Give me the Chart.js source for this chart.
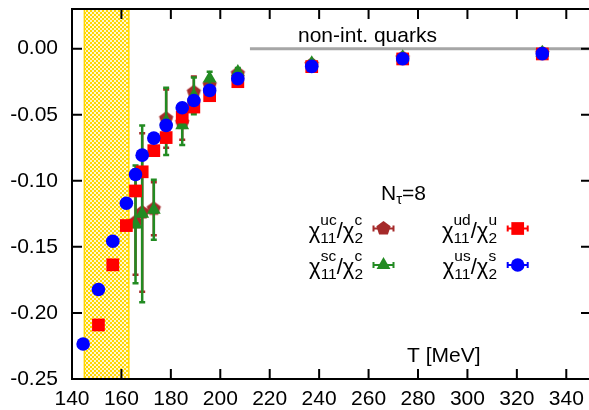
<!DOCTYPE html>
<html lang="en">
<head>
  <meta charset="UTF-8" />
  <title>Off-diagonal susceptibility ratios, N_tau = 8</title>
  <script src="https://cdn.jsdelivr.net/npm/chart.js"></script>
  <style>
    * { margin: 0; padding: 0; }
    html, body { width: 589px; height: 410px; overflow: hidden; background: #fff; }
    #chart { display: block; }
  </style>
</head>
<body>
  <canvas id="chart" width="600" height="410"></canvas>

  <script>
    // Temperatures in MeV
    const temps = [144.5, 150.7, 156.5, 162.0, 165.7, 168.4, 173.1, 178.1, 184.6, 189.3, 195.7, 207.1, 237.0, 273.8, 330.3];

    // chi11^us / chi2^s
    const usS    = [-0.2235, -0.1823, -0.1458, -0.1170, -0.0952, -0.0806, -0.0677, -0.0581, -0.0447, -0.0392, -0.0316, -0.0227, -0.0134, -0.0076, -0.0038];
    const usSErr = [0.002, 0.002, 0.002, 0.002, 0.002, 0.002, 0.0015, 0.0015, 0.001, 0.001, 0.001, 0.001, 0.0008, 0.0006, 0.0005];
    // chi11^ud / chi2^u
    const udU    = [null, -0.2091, -0.1636, -0.1339, -0.1077, -0.0932, -0.0772, -0.0673, -0.0518, -0.0442, -0.0356, -0.0250, -0.0136, -0.0078, -0.0040];
    const udUErr = [null, 0.003, 0.003, 0.002, 0.002, 0.002, 0.0015, 0.0015, 0.001, 0.001, 0.001, 0.001, 0.0008, 0.0006, 0.0005];
    // chi11^sc / chi2^c
    const scC    = [null, null, null, null, -0.1330, -0.1250, -0.1220, -0.0550, -0.0580, -0.0357, -0.0225, -0.0177, -0.0110, -0.0065, -0.0032];
    const scCErr = [null, null, null, null, 0.0445, 0.0669, 0.0227, 0.0254, 0.0150, 0.0139, 0.0050, 0.0030, 0.0020, 0.0015, 0.0010];
    // chi11^uc / chi2^c
    const ucC    = [null, null, null, null, -0.1312, -0.1240, -0.1212, -0.0530, -0.0560, -0.0330, -0.0275, -0.0190, -0.0120, -0.0070, -0.0035];
    const ucCErr = [null, null, null, null, 0.040, 0.060, 0.020, 0.022, 0.013, 0.012, 0.0045, 0.003, 0.002, 0.0015, 0.001];

    // free (non-interacting) quark limit
    const freeT = [212, 350];
    const freeV = [0, 0];

    // crossover band T_c
    const bandT = [145, 163];

    const xTicks = [140, 160, 180, 200, 220, 240, 260, 280, 300, 320, 340];
    const yTicks = [-0.25, -0.20, -0.15, -0.10, -0.05, 0.00];

    const FONT = '"Liberation Sans", Arial, Helvetica, sans-serif';
    Chart.defaults.font.family = FONT;
    Chart.defaults.color = '#000';

    function pts(vals, errs) {
      const out = [];
      temps.forEach((t, i) => {
        if (vals[i] !== null) out.push({ x: t, y: vals[i], e: errs[i] });
      });
      return out;
    }

    function pentagon(r, color) {
      const s = Math.ceil(2 * r + 2);
      const c = document.createElement('canvas');
      c.width = s; c.height = s;
      const g = c.getContext('2d');
      g.fillStyle = color;
      g.beginPath();
      for (let k = 0; k < 5; k++) {
        const a = -Math.PI / 2 + k * 2 * Math.PI / 5;
        const px = s / 2 + r * Math.cos(a), py = s / 2 + r * Math.sin(a);
        if (k) g.lineTo(px, py); else g.moveTo(px, py);
      }
      g.closePath();
      g.fill();
      return c;
    }

    // yellow checkered fill for the band
    const tile = document.createElement('canvas');
    tile.width = 4; tile.height = 4;
    const tg = tile.getContext('2d');
    tg.fillStyle = '#fff8d0'; tg.fillRect(0, 0, 4, 4);
    tg.fillStyle = '#ffd700'; tg.fillRect(0, 0, 2, 2); tg.fillRect(2, 2, 2, 2);

    // error bars, drawn under each dataset's own markers
    const errorBars = {
      id: 'errorBars',
      beforeDatasetDraw(chart, args) {
        const ds = chart.data.datasets[args.index];
        if (!ds.errBars) return;
        const xs = chart.scales.x, ys = chart.scales.y, ctx = chart.ctx, a = chart.chartArea;
        ctx.save();
        ctx.beginPath(); ctx.rect(a.left, a.top, a.right - a.left, a.bottom - a.top); ctx.clip();
        ctx.strokeStyle = ds.backgroundColor;
        ctx.lineWidth = 2.5;
        ds.data.forEach(p => {
          if (!p.e) return;
          const x = xs.getPixelForValue(p.x);
          const y1 = ys.getPixelForValue(p.y - p.e), y2 = ys.getPixelForValue(p.y + p.e);
          ctx.beginPath();
          ctx.moveTo(x, y1); ctx.lineTo(x, y2);
          ctx.moveTo(x - 3, y1); ctx.lineTo(x + 3, y1);
          ctx.moveTo(x - 3, y2); ctx.lineTo(x + 3, y2);
          ctx.stroke();
        });
        ctx.restore();
      }
    };

    // band behind, gnuplot style frame with inward ticks on top
    const frame = {
      id: 'frame',
      beforeDatasetsDraw(chart) {
        const ctx = chart.ctx, a = chart.chartArea, xs = chart.scales.x;
        const x0 = xs.getPixelForValue(bandT[0]), x1 = xs.getPixelForValue(bandT[1]);
        ctx.save();
        ctx.fillStyle = ctx.createPattern(tile, 'repeat');
        ctx.fillRect(x0, a.top, x1 - x0, a.bottom - a.top);
        ctx.strokeStyle = '#ffd700';
        ctx.lineWidth = 1.5;
        ctx.beginPath();
        ctx.moveTo(x0, a.top); ctx.lineTo(x0, a.bottom);
        ctx.moveTo(x1, a.top); ctx.lineTo(x1, a.bottom);
        ctx.stroke();
        ctx.restore();
      },
      afterDatasetsDraw(chart) {
        const ctx = chart.ctx, a = chart.chartArea, xs = chart.scales.x, ys = chart.scales.y;
        ctx.save();
        ctx.strokeStyle = '#000';
        ctx.lineWidth = 2;
        ctx.strokeRect(a.left, a.top, a.right - a.left, a.bottom - a.top);
        ctx.beginPath();
        xs.ticks.forEach(t => {
          const x = xs.getPixelForValue(t.value);
          ctx.moveTo(x, a.bottom); ctx.lineTo(x, a.bottom - 10);
          ctx.moveTo(x, a.top); ctx.lineTo(x, a.top + 10);
        });
        ys.ticks.forEach(t => {
          const y = ys.getPixelForValue(t.value);
          ctx.moveTo(a.left, y); ctx.lineTo(a.left + 10, y);
          ctx.moveTo(a.right, y); ctx.lineTo(a.right - 10, y);
        });
        ctx.stroke();

        ctx.fillStyle = '#000';
        ctx.textAlign = 'left';
        ctx.textBaseline = 'alphabetic';
        ctx.font = '21px ' + FONT;
        ctx.fillText('non-int. quarks', 298, 42);
        ctx.fillText('T [MeV]', 407, 362);
        ctx.restore();
      }
    };

    function chiLabel(ctx, right, base, s1, b1, s2, b2) {
      const big = '22px ' + FONT, small = '15.5px ' + FONT;
      ctx.font = big;
      const wChi = ctx.measureText('χ').width, wSl = ctx.measureText('/').width;
      ctx.font = small;
      const w1 = Math.max(ctx.measureText(s1).width, ctx.measureText(b1).width);
      const w2 = Math.max(ctx.measureText(s2).width, ctx.measureText(b2).width);
      let x = right - (2 * wChi + wSl + w1 + w2);
      ctx.font = big; ctx.fillText('χ', x, base); x += wChi;
      ctx.font = small; ctx.fillText(s1, x, base - 13); ctx.fillText(b1, x, base + 5); x += w1;
      ctx.font = big; ctx.fillText('/', x, base); x += wSl;
      ctx.fillText('χ', x, base); x += wChi;
      ctx.font = small; ctx.fillText(s2, x, base - 13); ctx.fillText(b2, x, base + 5);
    }

    const keyLabels = {
      uc: ['uc', '11', 'c', '2'],
      sc: ['sc', '11', 'c', '2'],
      ud: ['ud', '11', 'u', '2'],
      us: ['us', '11', 's', '2']
    };

    const legendBox = {
      id: 'legendBox',
      afterDraw(chart) {
        const ctx = chart.ctx;
        ctx.save();
        ctx.fillStyle = '#000';
        ctx.textAlign = 'left';
        ctx.textBaseline = 'alphabetic';
        ctx.font = '21px ' + FONT;
        ctx.fillText('N', 381, 199.5);
        const wN = ctx.measureText('N').width;
        ctx.font = '15px ' + FONT;
        ctx.fillText('τ', 381 + wN, 204);
        const wT = ctx.measureText('τ').width;
        ctx.font = '21px ' + FONT;
        ctx.fillText('=8', 381 + wN + wT, 199.5);

        const slots = [
          { key: 'uc', right: 363, mx: 383.5, y: 228.5 },
          { key: 'sc', right: 363, mx: 383.5, y: 265 },
          { key: 'ud', right: 497, mx: 517.7, y: 228.5 },
          { key: 'us', right: 497, mx: 517.7, y: 265 }
        ];
        slots.forEach(s => {
          const ds = chart.data.datasets.find(d => d.key === s.key);
          ctx.fillStyle = '#000';
          chiLabel(ctx, s.right, s.y + 9, ...keyLabels[s.key]);
          ctx.strokeStyle = ds.backgroundColor;
          ctx.lineWidth = 2;
          ctx.beginPath();
          ctx.moveTo(s.mx - 10, s.y); ctx.lineTo(s.mx + 10, s.y);
          ctx.moveTo(s.mx - 10, s.y - 3); ctx.lineTo(s.mx - 10, s.y + 3);
          ctx.moveTo(s.mx + 10, s.y - 3); ctx.lineTo(s.mx + 10, s.y + 3);
          ctx.stroke();
          ctx.fillStyle = ds.backgroundColor;
          Chart.helpers.drawPoint(ctx, {
            pointStyle: ds.pointStyle, radius: ds.pointRadius, rotation: 0, borderWidth: 0
          }, s.mx, s.y);
        });
        ctx.restore();
      }
    };

    new Chart(document.getElementById('chart'), {
      type: 'scatter',
      data: {
        datasets: [
          {
            key: 'us', errBars: true, order: 0,
            data: pts(usS, usSErr),
            backgroundColor: '#0000ff', borderColor: '#0000ff', borderWidth: 0,
            pointStyle: 'circle', pointRadius: 6.8, pointHoverRadius: 6.8
          },
          {
            key: 'ud', errBars: true, order: 1,
            data: pts(udU, udUErr),
            backgroundColor: '#ff0000', borderColor: '#ff0000', borderWidth: 0,
            pointStyle: 'rect', pointRadius: 9, pointHoverRadius: 9
          },
          {
            key: 'sc', errBars: true, order: 2,
            data: pts(scC, scCErr),
            backgroundColor: '#228b22', borderColor: '#228b22', borderWidth: 0,
            pointStyle: 'triangle', pointRadius: 8, pointHoverRadius: 8
          },
          {
            key: 'uc', errBars: true, order: 3,
            data: pts(ucC, ucCErr),
            backgroundColor: '#a52a2a', borderColor: '#a52a2a', borderWidth: 0,
            pointStyle: pentagon(7.5, '#a52a2a'), pointRadius: 7.5, pointHoverRadius: 7.5
          },
          {
            type: 'line', order: 4,
            data: freeT.map((t, i) => ({ x: t, y: freeV[i] })),
            borderColor: '#a6a6a6', borderWidth: 3, pointRadius: 0, showLine: true, fill: false
          }
        ]
      },
      options: {
        responsive: false,
        animation: false,
        events: [],
        layout: { padding: { top: 9, right: 8, left: 0, bottom: 0 } },
        plugins: { legend: { display: false }, tooltip: { enabled: false } },
        scales: {
          x: {
            type: 'linear', min: 140, max: 350,
            grid: { display: false, drawTicks: false }, border: { display: false },
            afterBuildTicks: s => { s.ticks = xTicks.map(v => ({ value: v })); },
            afterFit: s => { s.height = 31; s.paddingLeft = 0; s.paddingRight = 0; },
            ticks: { font: { size: 21 }, padding: 8, maxRotation: 0, autoSkip: false, callback: v => String(v) }
          },
          y: {
            type: 'linear', min: -0.25, max: 0.03,
            grid: { display: false, drawTicks: false }, border: { display: false },
            afterBuildTicks: s => { s.ticks = yTicks.map(v => ({ value: v })); },
            afterFit: s => { s.width = 72; s.paddingTop = 0; s.paddingBottom = 0; },
            ticks: { font: { size: 21 }, padding: 14, autoSkip: false, callback: v => v.toFixed(2) }
          }
        }
      },
      plugins: [errorBars, frame, legendBox]
    });
  </script>
</body>
</html>
